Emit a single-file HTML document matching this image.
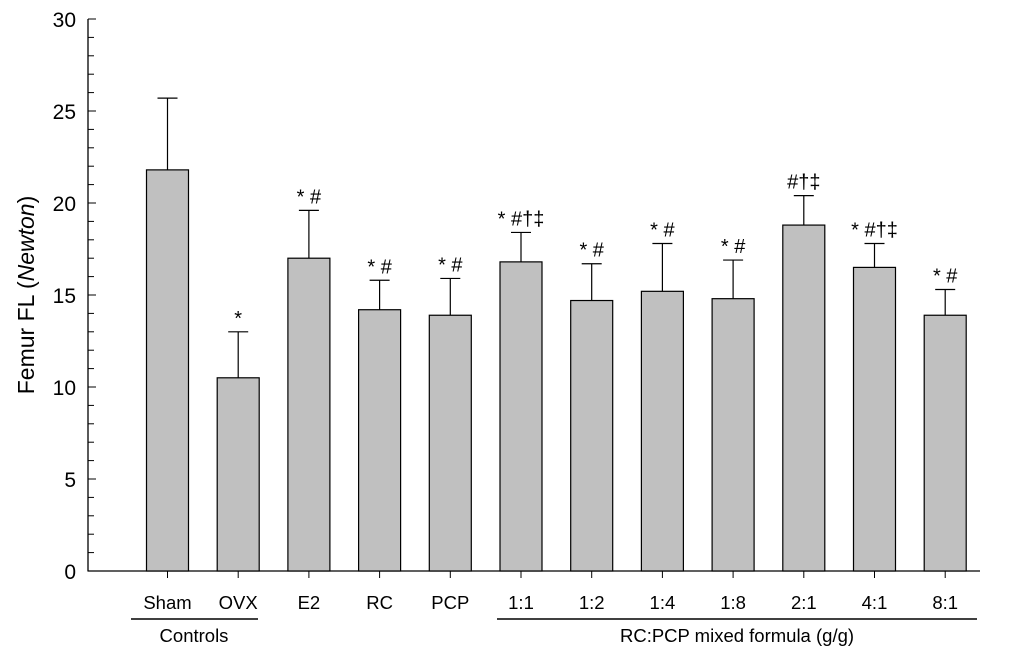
<!DOCTYPE html>
<html><head><meta charset="utf-8"><style>
body{margin:0;background:#fff;}
svg text{font-family:"Liberation Sans",Arial,sans-serif;fill:#000;}
</style></head><body>
<svg id="chart" width="1024" height="655"></svg>
<script>
const categories=["Sham","OVX","E2","RC","PCP","1:1","1:2","1:4","1:8","2:1","4:1","8:1"];
const means=[21.8,10.5,17.0,14.2,13.9,16.8,14.7,15.2,14.8,18.8,16.5,13.9];
const errors=[3.9,2.5,2.6,1.6,2.0,1.6,2.0,2.6,2.1,1.6,1.3,1.4];
const marks=["","*","* #","* #","* #","* #\u2020\u2021","* #","* #","* #","#\u2020\u2021","* #\u2020\u2021","* #"];
const yTicks=[0,5,10,15,20,25,30];
const NS="http://www.w3.org/2000/svg";
const svg=document.getElementById("chart");
const x0=88,y0=571,yTop=19,yMax=30;
const y=v=>y0-(v/yMax)*(y0-yTop);
const xc=i=>167.5+i*70.7;
const bw=42;
function mk(tag,attrs,txt){const e=document.createElementNS(NS,tag);for(const k in attrs)e.setAttribute(k,attrs[k]);if(txt!==undefined)e.textContent=txt;svg.appendChild(e);return e;}
let e=mk("line",{x1:x0,y1:yTop,x2:x0,y2:y0+0.5,stroke:"#000","stroke-width":1.3});


e=mk("line",{x1:x0,y1:y0,x2:980,y2:y0,stroke:"#000","stroke-width":1.3});


for(let v=0;v<=yMax;v++){
  const major=v%5===0;
  mk("line",{x1:x0,y1:y(v),x2:x0+(major?8:6),y2:y(v),stroke:"#000","stroke-width":1});
}
yTicks.forEach(v=>{
  const t=mk("text",{x:76,y:y(v)+8,"font-size":21,"text-anchor":"end"},v);
  
  
});
const yt=mk("text",{transform:"translate(34,295) rotate(-90)","font-size":23,"text-anchor":"middle"});


yt.innerHTML='Femur FL (<tspan font-style="italic">Newton</tspan>)';
categories.forEach((c,i)=>{
  const cx=xc(i);
  const b=mk("rect",{x:cx-bw/2,y:y(means[i]),width:bw,height:y0-y(means[i]),fill:"#c0c0c0",stroke:"#000","stroke-width":1.2});
  
  
  const top=y(means[i]+errors[i]);
  const eb=mk("path",{d:`M${cx},${y(means[i])}V${top}M${cx-10},${top}H${cx+10}`,stroke:"#000","stroke-width":1.2,fill:"none"});
  
  
  if(marks[i]){
    const m=mk("text",{x:cx,y:top-7,"font-size":20,"text-anchor":"middle"},marks[i]);
    
    
  }
  mk("line",{x1:cx,y1:y0,x2:cx,y2:y0+7,stroke:"#000","stroke-width":1});
  const l=mk("text",{x:cx,y:609,"font-size":18.5,"text-anchor":"middle"},c);
  
  
});
e=mk("line",{x1:131,y1:619,x2:258,y2:619,stroke:"#000","stroke-width":1.5});


e=mk("text",{x:194,y:642,"font-size":18.5,"text-anchor":"middle"},"Controls");


e=mk("line",{x1:497,y1:619,x2:977,y2:619,stroke:"#000","stroke-width":1.5});


e=mk("text",{x:737,y:642,"font-size":18.5,"text-anchor":"middle"},"RC:PCP mixed formula (g/g)");


</script>
</body></html>
